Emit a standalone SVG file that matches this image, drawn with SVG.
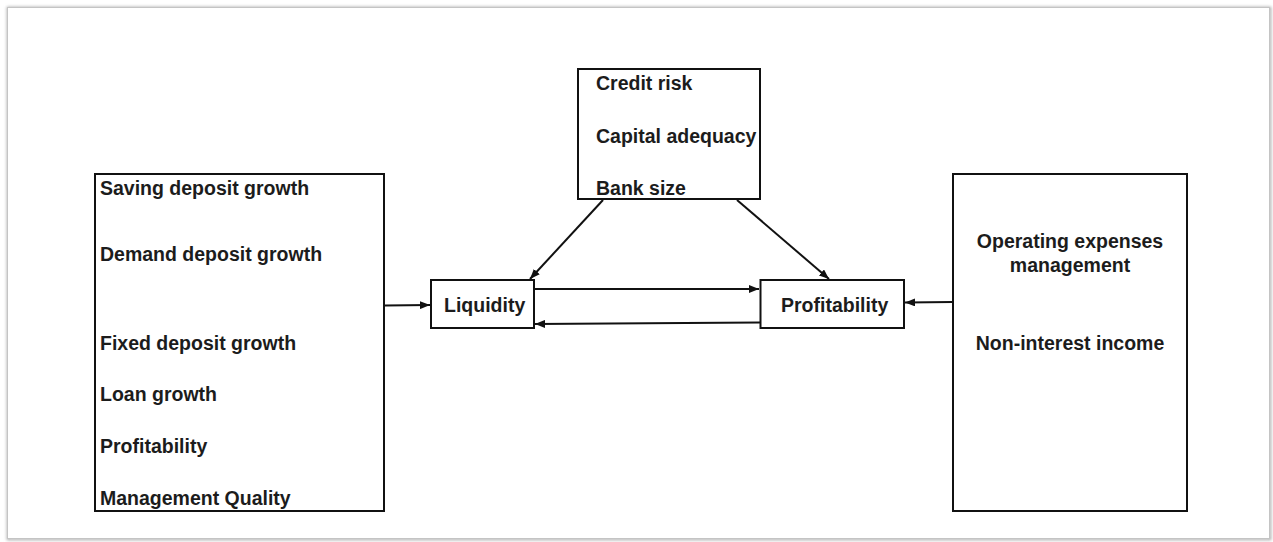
<svg xmlns="http://www.w3.org/2000/svg" width="1273" height="542" viewBox="0 0 1273 542">
<defs>
<marker id="ah" markerUnits="userSpaceOnUse" markerWidth="10" markerHeight="8" viewBox="0 0 10 8" refX="10" refY="4" orient="auto">
<path d="M0,0 L10,4 L0,8 z" fill="#111"/>
</marker>
<filter id="sh" x="-2%" y="-2%" width="104%" height="104%">
<feGaussianBlur stdDeviation="1.5"/>
</filter>
</defs>
<style>
.box{fill:#fff;stroke:#111;stroke-width:2}
.t{font-family:"Liberation Sans",Arial,sans-serif;font-weight:bold;font-size:19.5px;fill:#1c1c1c}
.c{text-anchor:middle}
.ln{stroke:#111;stroke-width:2;fill:none;marker-end:url(#ah)}
</style>
<rect width="1273" height="542" fill="#fff"/>
<g id="frame">
<rect x="8" y="8" width="1262" height="531" fill="none" stroke="#aaa" stroke-width="2.5" filter="url(#sh)"/>
<rect x="7.5" y="7.5" width="1262" height="531" fill="#fff" stroke="#c4c4c4" stroke-width="1"/>
</g>
<g id="connectors">
<line class="ln" x1="385" y1="305.5" x2="430" y2="305"/>
<line class="ln" x1="535" y1="289" x2="759" y2="289"/>
<line class="ln" x1="760" y1="322.5" x2="535" y2="324"/>
<line class="ln" x1="953" y1="302" x2="905" y2="302.5"/>
<line class="ln" x1="603" y1="200" x2="530" y2="279"/>
<line class="ln" x1="737" y1="200" x2="829" y2="279"/>
</g>
<g id="left">
<rect class="box" x="95" y="174" width="289" height="337"/>
<text class="t" x="100" y="195">Saving deposit growth</text>
<text class="t" x="100" y="261">Demand deposit growth</text>
<text class="t" x="100" y="350">Fixed deposit growth</text>
<text class="t" x="100" y="401">Loan growth</text>
<text class="t" x="100" y="453">Profitability</text>
<text class="t" x="100" y="505">Management Quality</text>
</g>
<g id="top">
<rect class="box" x="578" y="69" width="182" height="130"/>
<text class="t" x="596" y="90">Credit risk</text>
<text class="t" x="596" y="142.5">Capital adequacy</text>
<text class="t" x="596" y="195">Bank size</text>
</g>
<g id="liquidity">
<rect class="box" x="431" y="280" width="103" height="48"/>
<text class="t" x="444" y="311.5">Liquidity</text>
</g>
<g id="profitability">
<rect class="box" x="760.5" y="280" width="143.5" height="48"/>
<text class="t" x="781" y="311.5">Profitability</text>
</g>
<g id="right">
<rect class="box" x="953" y="174" width="234" height="337"/>
<text class="t c" x="1070" y="247.5">Operating expenses</text>
<text class="t c" x="1070" y="272">management</text>
<text class="t c" x="1070" y="349.5">Non-interest income</text>
</g>
</svg>
